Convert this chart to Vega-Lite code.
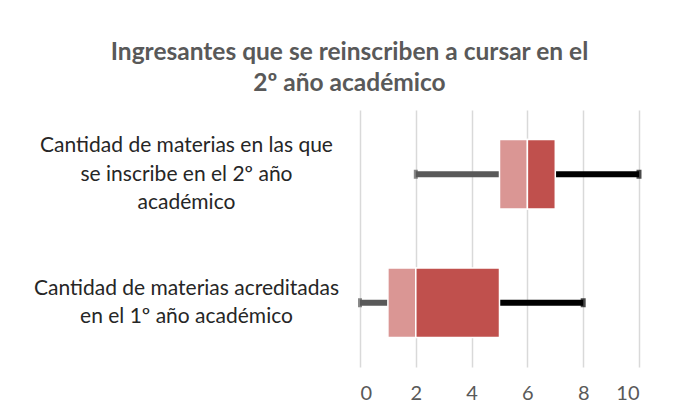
{
  "$schema": "https://vega.github.io/schema/vega-lite/v6.json",
  "width": 279,
  "height": 257,
  "autosize": "none",
  "padding": {"left": 360, "top": 110, "right": 39, "bottom": 50},
  "background": "white",
  "config": {"view": {"stroke": null}, "font": "Lato"},
  "title": {
    "text": ["Ingresantes que se reinscriben a cursar en el", "2º año académico"],
    "anchor": "middle",
    "frame": "group",
    "dx": -150,
    "offset": 14,
    "font": "Lato",
    "fontSize": 24.5,
    "fontWeight": "bold",
    "color": "#595959",
    "lineHeight": 31
  },
  "data": {
    "values": [
      {"cat": "Cantidad de materias en las que|se inscribe en el 2º año|académico", "min": 2, "q1": 5, "median": 6, "q3": 7, "max": 10},
      {"cat": "Cantidad de materias acreditadas|en el 1º año académico", "min": 0, "q1": 1, "median": 2, "q3": 5, "max": 8}
    ]
  },
  "encoding": {
    "y": {
      "field": "cat",
      "type": "nominal",
      "sort": null,
      "scale": {"paddingInner": 0, "paddingOuter": 0},
      "axis": {
        "title": null,
        "domain": false,
        "ticks": false,
        "grid": false,
        "labelExpr": "split(datum.label, '|')",
        "labelAlign": "center",
        "labelBaseline": "middle",
        "labelPadding": 174,
        "labelOffset": {"condition": {"test": "indexof(datum.value, 'inscribe') >= 0", "value": -28}, "value": -14},
        "labelFontSize": 21,
        "labelLineHeight": 28.5,
        "labelColor": "#262626",
        "labelFont": "Lato",
        "labelLimit": 400
      }
    }
  },
  "layer": [
    {
      "mark": {"type": "rule", "strokeWidth": 6, "color": "#595959"},
      "encoding": {
        "x": {
          "field": "min",
          "type": "quantitative",
          "scale": {"domain": [0, 10], "nice": false},
          "axis": {
            "title": null,
            "values": [0, 2, 4, 6, 8, 10],
            "grid": true,
            "gridColor": "#d9d9d9",
            "gridWidth": 1.5,
            "domain": false,
            "ticks": false,
            "labelPadding": 16,
            "labelFontSize": 20,
            "labelColor": "#595959",
            "labelFont": "Lato"
          }
        },
        "x2": {"field": "q1"}
      }
    },
    {
      "mark": {"type": "rule", "strokeWidth": 6, "color": "#000000"},
      "encoding": {
        "x": {"field": "q3", "type": "quantitative"},
        "x2": {"field": "max"}
      }
    },
    {
      "mark": {"type": "bar", "color": "#da9694", "stroke": "white", "strokeWidth": 1.5, "height": {"band": 0.54}},
      "encoding": {
        "x": {"field": "q1", "type": "quantitative"},
        "x2": {"field": "median"}
      }
    },
    {
      "mark": {"type": "bar", "color": "#c0504d", "stroke": "white", "strokeWidth": 1.5, "height": {"band": 0.54}},
      "encoding": {
        "x": {"field": "median", "type": "quantitative"},
        "x2": {"field": "q3"}
      }
    },
    {
      "mark": {"type": "tick", "color": "#595959", "thickness": 4, "size": 9, "orient": "vertical"},
      "encoding": {
        "x": {"field": "min", "type": "quantitative"}
      }
    },
    {
      "mark": {"type": "tick", "color": "#000000", "thickness": 5, "size": 9, "orient": "vertical"},
      "encoding": {
        "x": {"field": "max", "type": "quantitative"}
      }
    }
  ]
}
